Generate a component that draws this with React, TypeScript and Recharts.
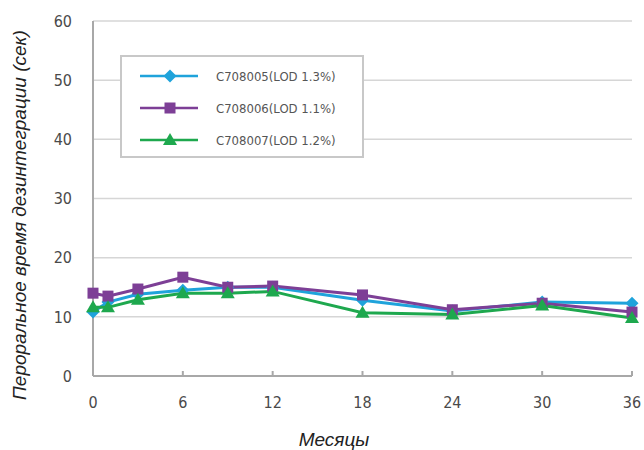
import React from 'react';
import { LineChart, Line, XAxis, YAxis, CartesianGrid, Label } from 'recharts';

const months = [0, 1, 3, 6, 9, 12, 18, 24, 30, 36];
const c708005 = [10.8, 12.5, 13.8, 14.5, 15.0, 15.0, 12.8, 11.0, 12.5, 12.3];
const c708006 = [14.0, 13.5, 14.7, 16.7, 15.0, 15.2, 13.7, 11.2, 12.3, 10.8];
const c708007 = [11.6, 11.6, 12.9, 14.0, 14.0, 14.3, 10.7, 10.4, 11.9, 9.8];
const xTicks = [0, 6, 12, 18, 24, 30, 36];
const yTicks = [0, 10, 20, 30, 40, 50, 60];
const seriesNames = ['C708005(LOD 1.3%)', 'C708006(LOD 1.1%)', 'C708007(LOD 1.2%)'];
const seriesKeys = ['a', 'b', 'c'];
const seriesColors = ['#1fa3db', '#7d3f96', '#1ea84e'];
const seriesShapes = ['diamond', 'square', 'triangle'];

const data = months.map((m, i) => ({ month: m, a: c708005[i], b: c708006[i], c: c708007[i] }));

function Marker({ shape, x, y, color }: { shape: string; x: number; y: number; color: string }) {
  if (shape === 'diamond') {
    return <path d={`M${x},${y - 6.5} L${x + 6.5},${y} L${x},${y + 6.5} L${x - 6.5},${y} Z`} fill={color} />;
  }
  if (shape === 'square') {
    return <rect x={x - 5.5} y={y - 5.5} width={11} height={11} fill={color} />;
  }
  return <path d={`M${x},${y - 7} L${x + 7},${y + 5} L${x - 7},${y + 5} Z`} fill={color} />;
}

function makeDot(shape: string, color: string) {
  return (p: any) => {
    if (p.cx == null || p.cy == null) return <g key={`${shape}-${p.index}`} />;
    return (
      <g key={`${shape}-${p.index}`}>
        <Marker shape={shape} x={p.cx} y={p.cy} color={color} />
      </g>
    );
  };
}

const tickStyle = { fontFamily: '"DejaVu Sans Condensed", "DejaVu Sans", sans-serif', fontSize: 16, fill: '#4a4a4a' };

function LegendBox() {
  return (
    <div
      style={{
        position: 'absolute',
        left: 120,
        top: 55,
        width: 244,
        height: 103,
        boxSizing: 'border-box',
        border: '2px solid #c8c8c8',
        background: '#fff',
        paddingTop: 3,
      }}
    >
      {seriesNames.map((n, i) => (
        <div key={n} style={{ display: 'flex', alignItems: 'center', height: 32 }}>
          <svg width={94} height={20} style={{ display: 'block' }}>
            <line x1={18} y1={10} x2={76} y2={10} stroke={seriesColors[i]} strokeWidth={2.5} />
            <Marker shape={seriesShapes[i]} x={48} y={10} color={seriesColors[i]} />
          </svg>
          <span
            style={{
              fontFamily: '"DejaVu Sans Condensed", "DejaVu Sans", sans-serif',
              fontSize: 13,
              color: '#555',
              whiteSpace: 'nowrap',
            }}
          >
            {n}
          </span>
        </div>
      ))}
    </div>
  );
}

export default function App() {
  return (
    <div style={{ position: 'absolute', left: 0, top: 0, width: 644, height: 450, background: '#fff' }}>
      <LineChart width={644} height={450} data={data} margin={{ top: 21, right: 12, bottom: 24, left: 33 }}>
        <CartesianGrid vertical={false} stroke="#d6d6d6" strokeWidth={1.5} />
        <XAxis
          dataKey="month"
          type="number"
          domain={[0, 36]}
          ticks={xTicks}
          height={50}
          stroke="#a8a8a8"
          strokeWidth={2}
          tickSize={-5}
          tickMargin={26}
          tick={tickStyle}
          interval={0}
        >
          <Label
            content={() => (
              <text x={334} y={446} textAnchor="middle" fontFamily='"Liberation Sans", Arial, sans-serif' fontStyle="italic" fontSize={19} fill="#222">
                Месяцы
              </text>
            )}
          />
        </XAxis>
        <YAxis
          type="number"
          domain={[0, 60]}
          ticks={yTicks}
          width={60}
          stroke="#a8a8a8"
          strokeWidth={2}
          tickLine={false}
          tickMargin={15}
          tick={tickStyle}
          interval={0}
        >
          <Label
            content={() => (
              <text
                x={26}
                y={215}
                transform="rotate(-90 26 215)"
                textAnchor="middle"
                fontFamily='"Liberation Sans", Arial, sans-serif'
                fontStyle="italic"
                fontSize={19}
                fill="#222"
              >
                Пероральное время дезинтеграции (сек)
              </text>
            )}
          />
        </YAxis>
        {seriesKeys.map((k, i) => (
          <Line
            key={k}
            type="linear"
            dataKey={k}
            name={seriesNames[i]}
            stroke={seriesColors[i]}
            strokeWidth={3}
            dot={makeDot(seriesShapes[i], seriesColors[i])}
            activeDot={false}
            isAnimationActive={false}
          />
        ))}
      </LineChart>
      <LegendBox />
    </div>
  );
}
